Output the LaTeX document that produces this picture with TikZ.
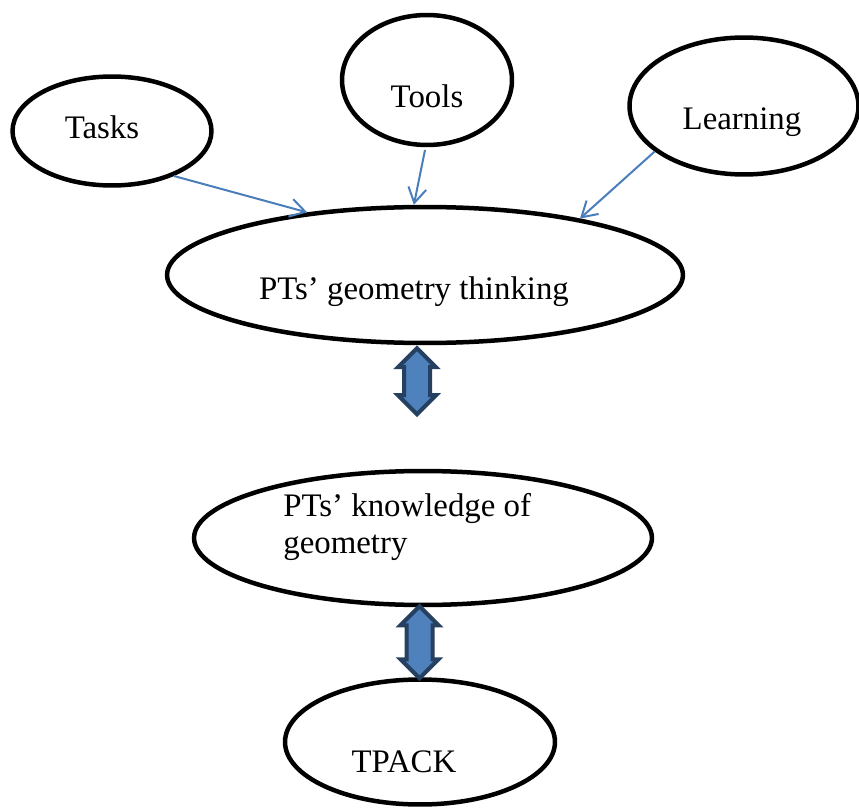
\documentclass[tikz,border=0pt]{standalone}
\usepackage{fontspec}
\setmainfont{Liberation Serif}
\usetikzlibrary{shapes.geometric, shapes.arrows, arrows.meta, calc}
\definecolor{thinblue}{RGB}{74,126,187}
\definecolor{arrdark}{RGB}{37,64,97}
\definecolor{arrfill}{RGB}{79,129,189}
\begin{document}
\begin{tikzpicture}[
    x=0.02cm, y=-0.02cm,
    oval/.style={ellipse, draw=black, line width=0.09cm, inner sep=0pt},
    lbl/.style={font=\fontsize{18.7}{21}\selectfont, inner sep=0pt},
    thin/.style={-{Straight Barb[length=0.3cm, width=0.36cm]}, thinblue, line width=0.04cm},
    twoway/.style={double arrow, draw=arrdark, fill=arrfill, line width=0.08cm,
                   inner sep=0.22cm, double arrow head extend=0.12cm,
                   minimum width=0pt, rotate=90},
]
\useasboundingbox (0,0) rectangle (859,811);

% three influences on top
\node[oval, minimum width=3.98cm, minimum height=2.18cm] (tasks) at (112,131) {};
\node[oval, minimum width=3.4cm, minimum height=2.6cm] (tools) at (427,80) {};
\node[oval, minimum width=4.58cm, minimum height=2.74cm] (learn) at (744,106) {};
\node[lbl] (taskst) at (102,127) {Tasks};
\node[lbl] (toolst) at (427,96) {Tools};
\node[lbl] (learnt) at (742,122) {Learning};

% central chain
\node[oval, minimum width=10.32cm, minimum height=2.72cm] (think) at (425,275) {};
\node[oval, minimum width=9.16cm, minimum height=2.68cm] (know) at (423,538) {};
\node[oval, minimum width=5.4cm, minimum height=2.5cm] (tpack) at (420,742) {};
\node[lbl] (thinkt) at (414,292) {PTs’ geometry thinking};
\node[lbl, align=left, anchor=north west] (knowt) at (283,493) {PTs’ knowledge of\\geometry};
\node[lbl] (tpackt) at (404,762) {TPACK};

\coordinate (toolsout) at (425,150);
\draw[thin] (tasks.-36) -- (think.152);
\draw[thin] (toolsout) -- (think.99);
\draw[thin] (learn.207) -- (think.20);

\node[twoway, minimum height=1.32cm] (link1) at ($(think.south)+(-8,36)$) {};
\node[twoway, minimum height=1.44cm] (link2) at ($(know.south)!0.5!(tpack.north)+(-2,0)$) {};
\end{tikzpicture}
\end{document}
